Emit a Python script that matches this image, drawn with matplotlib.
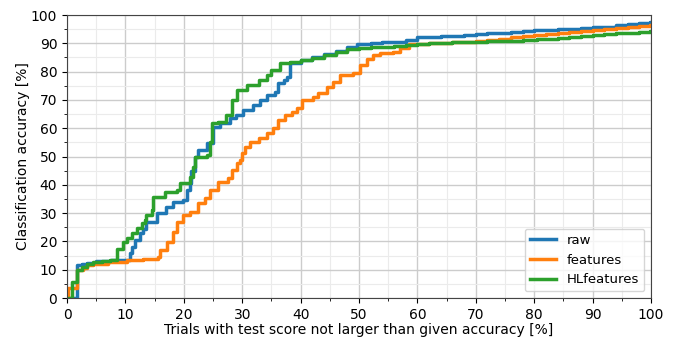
import numpy as np
import matplotlib
matplotlib.use('Agg')
from matplotlib import pyplot as plt
from matplotlib.ticker import MultipleLocator

#=================================================
#DATA (step curves, value holds until next x)
#=================================================
raw_x = [0, 1.7, 2.5, 3.5, 5, 7.5, 9.5, 10.8, 11.2, 11.6, 12.5, 13.0, 13.6, 15.4, 17.0,
         18.2, 19.9, 20.5, 21.0, 21.3, 21.9, 22.4, 23.9, 25.0, 26.2, 27.9, 29.0, 30.2,
         31.9, 33.0, 34.2, 35.6, 36.2, 37.2, 37.6, 38.2, 40, 42, 44, 46, 48, 49.6,
         52, 54, 56, 58, 60, 62, 64, 66, 68, 70, 72, 74, 76, 78, 80, 82, 84, 86, 88,
         90, 92, 94, 96, 98, 99.8, 100]
raw_y = [0, 11.7, 12.0, 12.5, 13.0, 13.3, 13.6, 15.9, 18.1, 20.5, 22.9, 24.5, 27.0, 30.0, 32.3,
         34.0, 34.6, 38.2, 40.6, 45.0, 50.0, 52.3, 54.7, 60.5, 61.7, 63.5, 64.7, 66.4,
         68.2, 70.0, 71.7, 72.9, 75.9, 77.0, 78.2, 83.0, 84.1, 85.0, 86.2, 87.3, 88.6, 89.6,
         90.0, 90.3, 90.6, 91.3, 92.1, 92.3, 92.5, 92.7, 92.9, 93.2, 93.5, 93.8, 94.1, 94.4,
         94.6, 94.8, 95.0, 95.2, 95.4, 95.6, 95.9, 96.3, 96.7, 97.0, 97.4, 97.4]

feat_x = [0, 0.2, 1.7, 2.8, 3.5, 4.5, 7, 10.2, 13, 15.6, 15.9, 17.1, 18.2, 18.8, 19.9,
          21.1, 22.5, 23.6, 24.5, 25.9, 27.6, 28.2, 29.1, 29.6, 29.9, 30.5, 31.3, 32.8,
          34.2, 35.3, 36.2, 37.3, 38.5, 39.3, 40.2, 42.2, 43.0, 44.5, 45.6, 46.7, 49.0,
          50.2, 51.3, 52.4, 53.6, 55.9, 57.0, 58.5, 60, 62, 64, 66, 68, 70, 72, 74, 76,
          78, 80, 82, 84, 86, 88, 90, 92, 94, 96, 98, 99.8, 100]
feat_y = [0, 3.5, 9.9, 10.5, 11.5, 12.2, 12.8, 13.4, 13.9, 14.4, 17.0, 19.9, 23.4, 27.0, 29.3,
          30.5, 33.5, 35.3, 38.2, 41.1, 42.3, 45.2, 47.6, 48.8, 51.1, 53.5, 55.2, 56.4,
          58.2, 60.0, 62.9, 64.7, 65.8, 67.3, 70.0, 71.1, 72.3, 74.7, 76.5, 78.8, 79.6,
          82.3, 84.4, 86.0, 86.5, 87.0, 88.2, 89.6, 89.8, 90.0, 90.2, 90.4, 90.6, 90.8,
          91.2, 91.6, 92.1, 92.5, 92.9, 93.3, 93.6, 93.9, 94.3, 94.7, 95.1, 95.5, 95.9,
          96.2, 96.5, 96.5]

hl_x = [0, 0.8, 1.66, 2.5, 3.5, 4.5, 6, 7.4, 8.5, 9.6, 10.2, 11.1, 11.9, 12.8, 13.3,
        13.6, 14.5, 14.7, 16.8, 18.8, 19.3, 21.0, 21.6, 21.9, 23.9, 24.5, 24.8, 25.9,
        27.3, 28.2, 29.1, 30.8, 32.8, 34.2, 35.0, 36.5, 38.2, 40, 42, 44, 46, 48, 50,
        52, 54, 56, 58, 60, 62, 64, 66, 68, 70, 72, 74, 76, 78, 80, 80.4, 82, 84, 86,
        88, 90, 92, 94, 96, 98, 99.8, 100]
hl_y = [0, 5.8, 9.9, 11.0, 12.0, 12.8, 13.1, 13.4, 17.5, 19.9, 21.1, 22.9, 24.6, 26.4, 27.5,
        29.3, 31.1, 35.7, 37.6, 38.2, 40.6, 42.9, 46.4, 50.0, 50.5, 55.0, 61.7, 62.3,
        64.7, 70.0, 73.5, 75.3, 77.0, 78.8, 80.6, 82.9, 83.5, 84.1, 84.9, 85.7, 86.8,
        87.9, 88.5, 88.6, 88.6, 88.9, 89.3, 89.8, 90.0, 90.1, 90.3, 90.4, 90.6, 90.7,
        90.8, 90.9, 91.0, 91.1, 91.5, 91.6, 91.9, 92.2, 92.5, 92.9, 93.2, 93.5, 93.8,
        94.0, 94.3, 94.3]

series = [(raw_x, raw_y, 'raw', '#1f77b4'),
          (feat_x, feat_y, 'features', '#ff7f0e'),
          (hl_x, hl_y, 'HLfeatures', '#2ca02c')]

#=================================================
#PLOT
#=================================================
fig = plt.figure(figsize=(6.77, 3.41), dpi=100)
ax = fig.add_axes([0.099, 0.126, 0.8626, 0.830])

for x, y, name, c in series:
    ax.plot(x, y, drawstyle='steps-post', color=c, lw=2.5, label=name)

ax.set_xlim(0, 100)
ax.set_ylim(0, 100)
ax.xaxis.set_major_locator(MultipleLocator(10))
ax.yaxis.set_major_locator(MultipleLocator(10))
ax.xaxis.set_minor_locator(MultipleLocator(5))
ax.yaxis.set_minor_locator(MultipleLocator(5))
ax.grid(which='major', color='#cccccc', lw=1.0)
ax.grid(which='minor', color='#ebebeb', lw=0.8)
ax.set_axisbelow(True)
for s in ax.spines.values():
    s.set_color('#444444')

ax.set_xlabel('Trials with test score not larger than given accuracy [%]', fontsize=10, labelpad=1)
ax.set_ylabel('Classification accuracy [%]', fontsize=10, labelpad=1)
ax.tick_params(labelsize=10)
ax.legend(loc='lower right', fontsize=9.5)

plt.savefig('out.png', dpi=100)
